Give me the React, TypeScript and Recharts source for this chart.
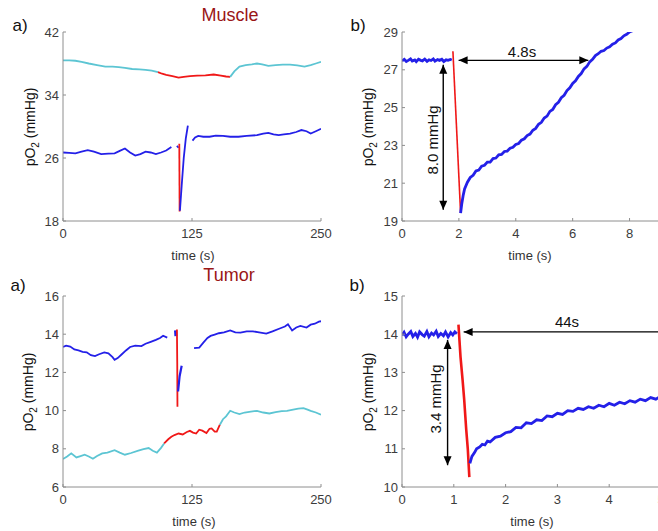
import { LineChart, Line, XAxis, YAxis, ReferenceLine } from "recharts";

type Pt = [number, number];

// ---- Muscle, long trace (time s, pO2 mmHg)
const muscleUpperBefore: Pt[] = [
  [0, 38.4], [6, 38.4], [12, 38.35], [18, 38.2], [25, 38.0], [33, 37.8], [41, 37.6],
  [48, 37.6], [54, 37.55], [60, 37.45], [67, 37.3], [74, 37.25], [80, 37.2], [86, 37.1], [92, 36.9],
];
const muscleUpperDuring: Pt[] = [
  [92, 36.9], [96, 36.7], [100, 36.55], [106, 36.4], [112, 36.2], [117, 36.3], [123, 36.4],
  [130, 36.45], [138, 36.5], [146, 36.6], [153, 36.45], [158, 36.35], [162, 36.3],
];
const muscleUpperAfter: Pt[] = [
  [162, 36.3], [166, 37.0], [171, 37.6], [177, 37.8], [183, 37.9], [188, 38.0], [193, 37.9],
  [199, 37.7], [206, 37.8], [213, 37.85], [220, 37.85], [227, 37.75], [234, 37.6], [240, 37.8],
  [245, 38.0], [250, 38.2],
];
const muscleLowerBefore: Pt[] = [
  [0, 26.7], [6, 26.65], [12, 26.6], [18, 26.8], [24, 27.0], [30, 26.8], [37, 26.5], [44, 26.55],
  [50, 26.6], [55, 26.9], [60, 27.2], [65, 26.7], [70, 26.3], [75, 26.5], [80, 26.8], [85, 26.7],
  [90, 26.5], [95, 26.7], [100, 26.95], [105, 27.4],
];
const muscleLowerStub: Pt[] = [[110.5, 27.35], [111.8, 27.5]];
const muscleLowerDrop: Pt[] = [[112.7, 27.8], [113.0, 19.2]];
const muscleLowerRecovery: Pt[] = [[113.3, 19.3], [115, 22.5], [117, 26.0], [119, 28.5], [121, 30.1]];
const muscleLowerAfter: Pt[] = [
  [125.5, 28.2], [128, 28.6], [131, 28.8], [136, 28.7], [142, 28.7], [148, 28.85], [155, 28.8],
  [162, 28.7], [170, 28.7], [178, 28.8], [188, 28.9], [194, 29.1], [199, 29.2], [204, 29.0],
  [209, 28.9], [214, 29.0], [220, 29.1], [226, 29.3], [231, 29.55], [236, 29.4], [240, 29.1],
  [245, 29.4], [250, 29.7],
];

// ---- Muscle, zoomed drop
const muscleZoomBaseline: Pt[] = [
  [0, 27.47], [0.08, 27.55], [0.15, 27.44], [0.22, 27.5], [0.3, 27.58], [0.36, 27.46], [0.45, 27.52],
  [0.5, 27.43], [0.58, 27.56], [0.66, 27.5], [0.72, 27.47], [0.8, 27.57], [0.88, 27.45], [0.95, 27.53],
  [1.02, 27.49], [1.1, 27.58], [1.16, 27.46], [1.25, 27.54], [1.32, 27.5], [1.4, 27.56], [1.47, 27.44],
  [1.55, 27.53], [1.62, 27.5], [1.7, 27.55], [1.75, 27.52],
];
const muscleZoomDrop: Pt[] = [[1.79, 27.98], [2.06, 19.42]];
const muscleZoomRecovery: Pt[] = [
  [2.06, 19.42], [2.1, 19.9], [2.15, 20.35], [2.2, 20.7], [2.3, 21.05], [2.4, 21.3], [2.5, 21.42],
  [2.6, 21.65], [2.7, 21.7], [2.8, 21.9], [2.9, 21.95], [3.0, 22.12], [3.1, 22.12], [3.2, 22.3],
  [3.3, 22.33], [3.4, 22.5], [3.5, 22.52], [3.6, 22.68], [3.7, 22.7], [3.8, 22.85], [3.9, 22.9],
  [4.0, 23.05], [4.1, 23.1], [4.2, 23.28], [4.3, 23.35], [4.4, 23.52], [4.5, 23.6], [4.6, 23.8],
  [4.7, 23.9], [4.8, 24.12], [4.9, 24.22], [5.0, 24.45], [5.1, 24.55], [5.2, 24.8], [5.3, 24.9],
  [5.4, 25.15], [5.5, 25.28], [5.6, 25.52], [5.7, 25.65], [5.8, 25.9], [5.9, 26.05], [6.0, 26.28],
  [6.1, 26.42], [6.2, 26.65], [6.3, 26.8], [6.4, 27.05], [6.5, 27.18], [6.6, 27.42], [6.7, 27.55],
  [6.8, 27.75], [6.9, 27.85], [7.0, 27.98], [7.1, 28.02], [7.2, 28.15], [7.3, 28.22], [7.4, 28.35],
  [7.5, 28.42], [7.6, 28.58], [7.7, 28.65], [7.8, 28.8], [7.9, 28.88], [8.0, 29.0], [8.1, 29.06],
  [8.2, 29.2],
];

// ---- Tumor, long trace
const tumorUpperBefore: Pt[] = [
  [0, 13.33], [3, 13.4], [7, 13.35], [11, 13.2], [15, 13.15], [19, 13.08], [23, 13.05], [27, 12.9],
  [31, 12.85], [35, 12.95], [40, 13.05], [44, 13.0], [48, 12.8], [50, 12.66], [53, 12.75],
  [57, 12.95], [61, 13.15], [65, 13.33], [70, 13.4], [76, 13.38], [80, 13.5], [85, 13.6],
  [90, 13.7], [94, 13.8], [97, 13.92], [101, 13.82],
];
const tumorUpperStub: Pt[] = [[109, 14.2], [109.4, 13.9]];
const tumorUpperDrop: Pt[] = [[110.4, 14.25], [110.7, 12.5], [110.9, 10.2]];
const tumorUpperRecovery: Pt[] = [[111.5, 11.0], [113, 11.8], [115, 12.35]];
const tumorUpperAfter: Pt[] = [
  [127, 13.27], [132, 13.3], [136, 13.56], [140, 13.8], [143, 13.91], [147, 13.98], [151, 14.05],
  [156, 14.1], [162, 14.2], [167, 14.1], [172, 14.08], [178, 14.15], [184, 14.15], [190, 14.1],
  [197, 14.03], [203, 14.15], [210, 14.3], [215, 14.4], [218, 14.52], [222, 14.2], [226, 14.35],
  [230, 14.43], [236, 14.35], [240, 14.5], [244, 14.55], [248, 14.66], [250, 14.68],
];
const tumorLowerBefore: Pt[] = [
  [0, 7.46], [4, 7.6], [8, 7.76], [13, 7.55], [17, 7.62], [21, 7.69], [25, 7.6], [29, 7.48],
  [33, 7.62], [38, 7.76], [43, 7.8], [50, 7.93], [55, 7.8], [60, 7.69], [66, 7.78], [73, 7.9],
  [78, 7.98], [83, 8.04], [87, 7.9], [91, 7.8], [95, 8.05], [98, 8.28],
];
const tumorLowerDuring: Pt[] = [
  [98, 8.28], [102, 8.5], [105, 8.63], [108, 8.72], [112, 8.8], [116, 8.75], [120, 8.88],
  [123, 8.94], [126, 8.85], [129, 8.8], [132, 9.0], [135, 8.95], [139, 8.82], [142, 9.05],
  [144, 9.07], [147, 8.9], [149, 8.9], [152, 9.26],
];
const tumorLowerAfter: Pt[] = [
  [152, 9.26], [155, 9.55], [158, 9.7], [162, 9.99], [166, 9.9], [171, 9.82], [176, 9.9],
  [182, 9.95], [188, 9.99], [194, 9.9], [200, 9.85], [206, 9.92], [212, 9.97], [217, 9.99],
  [223, 10.05], [228, 10.1], [233, 10.13], [237, 10.05], [240, 9.99], [245, 9.9], [250, 9.78],
];

// ---- Tumor, zoomed drop
const tumorZoomBaseline: Pt[] = [
  [0, 13.97], [0.04, 14.05], [0.08, 13.93], [0.12, 14.0], [0.17, 14.07], [0.21, 13.94], [0.26, 14.02],
  [0.3, 13.92], [0.34, 14.06], [0.39, 13.99], [0.43, 13.95], [0.48, 14.07], [0.52, 13.93], [0.57, 14.03],
  [0.61, 13.98], [0.66, 14.08], [0.7, 13.94], [0.75, 14.02], [0.8, 13.96], [0.84, 14.06], [0.89, 13.93],
  [0.94, 14.04], [0.98, 13.98], [1.02, 14.06], [1.06, 14.01],
];
const tumorZoomDrop: Pt[] = [[1.09, 14.25], [1.13, 13.4], [1.17, 12.8], [1.2, 12.3], [1.24, 11.5], [1.27, 11.0], [1.3, 10.26]];
const tumorZoomRecovery: Pt[] = [
  [1.31, 10.62], [1.35, 10.8], [1.4, 10.9], [1.44, 11.0], [1.5, 11.05], [1.55, 11.12], [1.6, 11.1],
  [1.65, 11.2], [1.7, 11.18], [1.8, 11.3], [1.9, 11.33], [2.0, 11.42], [2.1, 11.45], [2.2, 11.56],
  [2.3, 11.55], [2.4, 11.68], [2.5, 11.66], [2.6, 11.76], [2.7, 11.74], [2.8, 11.86], [2.9, 11.84],
  [3.0, 11.93], [3.1, 11.9], [3.2, 12.0], [3.3, 11.98], [3.4, 12.06], [3.5, 12.03], [3.6, 12.1],
  [3.7, 12.06], [3.8, 12.14], [3.9, 12.1], [4.0, 12.19], [4.1, 12.14], [4.2, 12.22], [4.3, 12.18],
  [4.4, 12.26], [4.5, 12.22], [4.6, 12.3], [4.7, 12.26], [4.8, 12.34], [4.9, 12.3], [5.0, 12.38],
];

const longTicks = [0, 125, 250];
const muscleYTicks = [18, 26, 34, 42];
const muscleZoomXTicks = [0, 2, 4, 6, 8];
const muscleZoomYTicks = [19, 21, 23, 25, 27, 29];
const tumorYTicks = [6, 8, 10, 12, 14, 16];
const tumorZoomXTicks = [0, 1, 2, 3, 4, 5];
const tumorZoomYTicks = [10, 11, 12, 13, 14, 15];

const BLUE = "#2420e8";
const CYAN = "#5cc5d3";
const RED = "#f01818";
const FRAME = "#8e8e8e";
const TICK = "#3c3c3c";
const FONT = '"Liberation Sans", Arial, sans-serif';

const toData = (pts: Pt[]) => pts.map(([t, v]) => ({ t, v }));

function Arrow(props: any) {
  const { x1, y1, x2, y2, heads } = props;
  const dx = x2 - x1;
  const dy = y2 - y1;
  const len = Math.hypot(dx, dy) || 1;
  const ux = dx / len;
  const uy = dy / len;
  const L = 9;
  const W = 4;
  const head = (x: number, y: number, sx: number, sy: number) =>
    `${x},${y} ${x - sx * L - sy * W},${y - sy * L + sx * W} ${x - sx * L + sy * W},${y - sy * L - sx * W}`;
  return (
    <g>
      <line x1={x1} y1={y1} x2={x2} y2={y2} stroke="#000" strokeWidth={1.4} />
      {heads !== "start" && <polygon points={head(x2, y2, ux, uy)} fill="#000" />}
      <polygon points={head(x1, y1, -ux, -uy)} fill="#000" />
    </g>
  );
}

type Series = { pts: Pt[]; color: string; width: number };
type ArrowSpec = { x1: number; y1: number; x2: number; y2: number; heads: "both" | "start" };

function Panel(props: {
  left: number;
  top: number;
  width: number;
  height: number;
  marginTop: number;
  marginRight: number;
  yWidth: number;
  xHeight: number;
  xDomain: [number, number];
  xTicks: number[];
  yDomain: [number, number];
  yTicks: number[];
  series: Series[];
  arrows?: ArrowSpec[];
}) {
  const p = props;
  return (
    <div style={{ position: "absolute", left: p.left, top: p.top }}>
      <LineChart
        width={p.width}
        height={p.height}
        margin={{ top: p.marginTop, right: p.marginRight, bottom: 0, left: 0 }}
      >
        <XAxis
          type="number"
          dataKey="t"
          domain={p.xDomain}
          ticks={p.xTicks}
          interval={0}
          allowDataOverflow
          height={p.xHeight}
          stroke={FRAME}
          tickSize={-3}
          tickMargin={11}
          tick={{ fill: TICK, fontSize: 13, fontFamily: FONT }}
        />
        <XAxis
          xAxisId="top"
          orientation="top"
          type="number"
          domain={p.xDomain}
          ticks={p.xTicks}
          interval={0}
          height={0}
          stroke={FRAME}
          tickSize={-3}
          tick={false}
        />
        <YAxis
          type="number"
          domain={p.yDomain}
          ticks={p.yTicks}
          interval={0}
          allowDataOverflow
          width={p.yWidth}
          stroke={FRAME}
          tickSize={-3}
          tickMargin={7}
          tick={{ fill: TICK, fontSize: 13, fontFamily: FONT }}
        />
        <YAxis
          yAxisId="right"
          orientation="right"
          type="number"
          domain={p.yDomain}
          ticks={p.yTicks}
          interval={0}
          width={0}
          stroke={FRAME}
          tickSize={-3}
          tick={false}
        />
        {p.series.map((s, i) => (
          <Line
            key={i}
            data={toData(s.pts)}
            dataKey="v"
            type="linear"
            stroke={s.color}
            strokeWidth={s.width}
            dot={false}
            isAnimationActive={false}
          />
        ))}
        {(p.arrows || []).map((a, i) => (
          <ReferenceLine
            key={"a" + i}
            segment={[{ x: a.x1, y: a.y1 }, { x: a.x2, y: a.y2 }]}
            ifOverflow="visible"
            shape={(sp: any) => <Arrow {...sp} heads={a.heads} />}
          />
        ))}
      </LineChart>
    </div>
  );
}

function Text(props: { x: number; y: number; size: number; color?: string; rotate?: boolean; children: any }) {
  return (
    <div
      style={{
        position: "absolute",
        left: props.x,
        top: props.y,
        transform: `translate(-50%, -50%)${props.rotate ? " rotate(-90deg)" : ""}`,
        fontSize: props.size,
        color: props.color || "#111",
        whiteSpace: "nowrap",
        lineHeight: 1,
      }}
    >
      {props.children}
    </div>
  );
}

const yLabel = (
  <span>
    pO<sub style={{ fontSize: 10, verticalAlign: -4 }}>2</sub> (mmHg)
  </span>
);

export default function App() {
  return (
    <div
      style={{
        position: "absolute",
        left: 0,
        top: 0,
        width: 658,
        height: 531,
        overflow: "hidden",
        background: "#fff",
        fontFamily: FONT,
      }}
    >
      <Panel
        left={0} top={0} width={338} height={260} marginTop={32} marginRight={17}
        yWidth={63} xHeight={39} xDomain={[0, 250]} xTicks={longTicks}
        yDomain={[18, 42]} yTicks={muscleYTicks}
        series={[
          { pts: muscleUpperBefore, color: CYAN, width: 1.8 },
          { pts: muscleUpperDuring, color: RED, width: 1.8 },
          { pts: muscleUpperAfter, color: CYAN, width: 1.8 },
          { pts: muscleLowerBefore, color: BLUE, width: 1.8 },
          { pts: muscleLowerStub, color: BLUE, width: 2.5 },
          { pts: muscleLowerDrop, color: RED, width: 1.8 },
          { pts: muscleLowerRecovery, color: BLUE, width: 1.8 },
          { pts: muscleLowerAfter, color: BLUE, width: 1.8 },
        ]}
      />
      <Panel
        left={330} top={0} width={330} height={260} marginTop={32} marginRight={2}
        yWidth={72} xHeight={39} xDomain={[0, 9]} xTicks={muscleZoomXTicks}
        yDomain={[19, 29]} yTicks={muscleZoomYTicks}
        series={[
          { pts: muscleZoomBaseline, color: BLUE, width: 2.8 },
          { pts: muscleZoomDrop, color: RED, width: 1.6 },
          { pts: muscleZoomRecovery, color: BLUE, width: 2.8 },
        ]}
        arrows={[
          { x1: 1.45, y1: 27.27, x2: 1.45, y2: 19.6, heads: "both" },
          { x1: 1.99, y1: 27.5, x2: 6.55, y2: 27.5, heads: "both" },
        ]}
      />
      <Panel
        left={0} top={260} width={338} height={271} marginTop={36} marginRight={17}
        yWidth={63} xHeight={44} xDomain={[0, 250]} xTicks={longTicks}
        yDomain={[6, 16]} yTicks={tumorYTicks}
        series={[
          { pts: tumorUpperBefore, color: BLUE, width: 1.8 },
          { pts: tumorUpperStub, color: BLUE, width: 3 },
          { pts: tumorUpperDrop, color: RED, width: 1.8 },
          { pts: tumorUpperRecovery, color: BLUE, width: 2.2 },
          { pts: tumorUpperAfter, color: BLUE, width: 1.8 },
          { pts: tumorLowerBefore, color: CYAN, width: 1.8 },
          { pts: tumorLowerDuring, color: RED, width: 1.8 },
          { pts: tumorLowerAfter, color: CYAN, width: 1.8 },
        ]}
      />
      <Panel
        left={330} top={260} width={331} height={271} marginTop={36} marginRight={0}
        yWidth={72} xHeight={44} xDomain={[0, 5]} xTicks={tumorZoomXTicks}
        yDomain={[10, 15]} yTicks={tumorZoomYTicks}
        series={[
          { pts: tumorZoomBaseline, color: BLUE, width: 2.8 },
          { pts: tumorZoomDrop, color: RED, width: 2.6 },
          { pts: tumorZoomRecovery, color: BLUE, width: 2.8 },
        ]}
        arrows={[
          { x1: 0.88, y1: 13.85, x2: 0.88, y2: 10.57, heads: "both" },
          { x1: 1.19, y1: 14.06, x2: 5, y2: 14.06, heads: "start" },
        ]}
      />

      <Text x={230} y={15} size={18} color="#9a1616">Muscle</Text>
      <Text x={229} y={275} size={18} color="#9a1616">Tumor</Text>
      <Text x={20} y={25} size={17}>a)</Text>
      <Text x={358} y={25} size={17}>b)</Text>
      <Text x={18} y={285} size={17}>a)</Text>
      <Text x={357} y={285} size={17}>b)</Text>

      <Text x={32} y={127} size={14} rotate>{yLabel}</Text>
      <Text x={370} y={127} size={14} rotate>{yLabel}</Text>
      <Text x={30} y={392} size={14} rotate>{yLabel}</Text>
      <Text x={370} y={392} size={14} rotate>{yLabel}</Text>

      <Text x={193} y={255} size={13} color="#333">time (s)</Text>
      <Text x={530} y={255} size={13} color="#333">time (s)</Text>
      <Text x={194} y={521} size={13} color="#333">time (s)</Text>
      <Text x={532} y={521} size={13} color="#333">time (s)</Text>

      <Text x={522} y={51} size={15}>4.8s</Text>
      <Text x={432} y={140} size={15} rotate>8.0 mmHg</Text>
      <Text x={567} y={321} size={15}>44s</Text>
      <Text x={435} y={399} size={15} rotate>3.4 mmHg</Text>
    </div>
  );
}
